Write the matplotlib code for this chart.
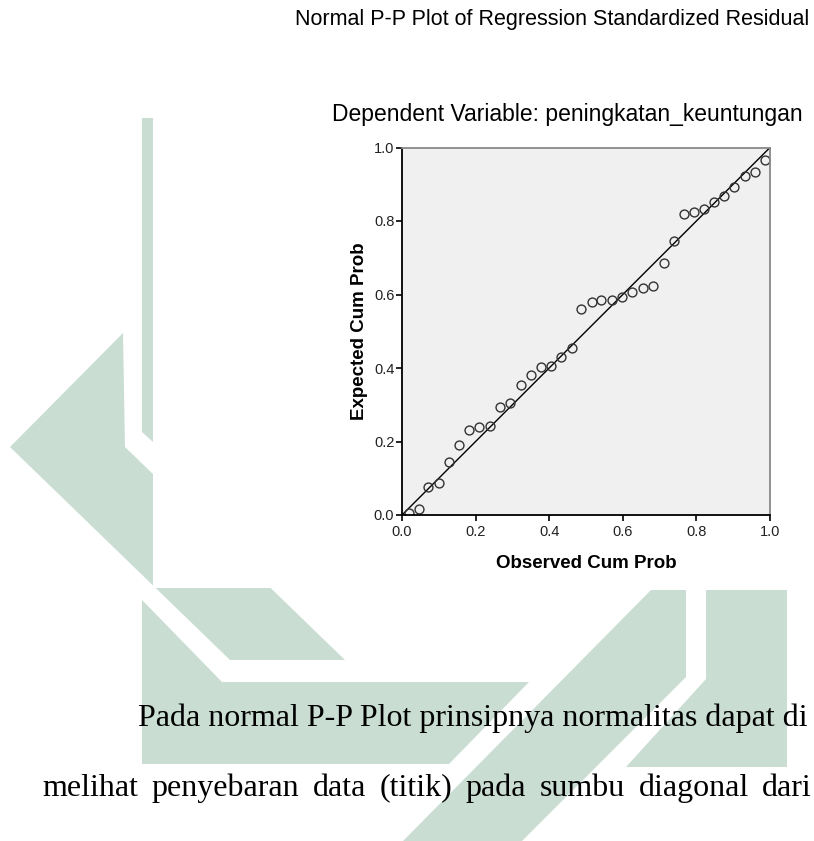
import matplotlib
matplotlib.use("Agg")
import matplotlib.pyplot as plt
from matplotlib.patches import Polygon, Rectangle

# observed vs expected cumulative probability
observed_cum_prob = [0.018, 0.045, 0.072, 0.101, 0.127, 0.156, 0.183, 0.210, 0.239,
                     0.267, 0.294, 0.323, 0.350, 0.377, 0.404, 0.433, 0.461, 0.487,
                     0.515, 0.542, 0.570, 0.599, 0.626, 0.655, 0.682, 0.711, 0.738,
                     0.765, 0.793, 0.820, 0.847, 0.876, 0.903, 0.931, 0.958, 0.987]
expected_cum_prob = [0.006, 0.016, 0.077, 0.088, 0.143, 0.190, 0.230, 0.239, 0.241,
                     0.293, 0.304, 0.354, 0.381, 0.402, 0.406, 0.430, 0.455, 0.560,
                     0.580, 0.584, 0.586, 0.593, 0.608, 0.619, 0.622, 0.687, 0.745,
                     0.820, 0.824, 0.833, 0.851, 0.867, 0.892, 0.922, 0.933, 0.965]
ticks = [0.0, 0.2, 0.4, 0.6, 0.8, 1.0]
tick_labels = ["0.0", "0.2", "0.4", "0.6", "0.8", "1.0"]

title = "Normal P-P Plot of Regression Standardized Residual"
subtitle = "Dependent Variable: peningkatan_keuntungan"
body_line1 = "Pada normal P-P Plot prinsipnya normalitas dapat di"
body_line2 = "melihat penyebaran data (titik) pada sumbu diagonal dari"

W, H = 814, 841


def fxy(x, y):
    # pixel position (origin top-left) -> figure fraction
    return (x / W, 1 - y / H)


fig = plt.figure(figsize=(W / 100, H / 100), dpi=100)

# watermark shapes behind the page
wm_color = "#c9ddd3"
shapes = [
    [(142, 118), (153, 118), (153, 442), (142, 432)],
    [(123, 333), (10, 447), (230, 660), (345, 660), (125, 447)],
    [(142, 600), (222, 682), (529, 682), (449, 764), (142, 764)],
    [(651, 590), (686, 590), (686, 677), (522, 841), (403, 841)],
    [(706, 590), (787, 590), (787, 767), (626, 767), (706, 679)],
]
for pts in shapes:
    fig.patches.append(Polygon([fxy(x, y) for x, y in pts], closed=True,
                               transform=fig.transFigure, facecolor=wm_color,
                               edgecolor="none", zorder=-2))

# white background of the pasted chart image
fig.patches.append(Rectangle(fxy(153, 588), (W - 153) / W, 588 / H,
                             transform=fig.transFigure, facecolor="white",
                             edgecolor="none", zorder=-1))

ax = fig.add_axes([402 / W, 1 - 515 / H, 368 / W, 367.5 / H])
ax.set_facecolor("#f0f0f0")
ax.plot([0, 1], [0, 1], color="black", lw=1.0)
ax.plot(observed_cum_prob, expected_cum_prob, "o", ms=6.4, mfc="none",
        mec="#333333", mew=1.0)
ax.set_xlim(0, 1)
ax.set_ylim(0, 1)
ax.set_xticks(ticks)
ax.set_yticks(ticks)
ax.set_xticklabels(tick_labels)
ax.set_yticklabels(tick_labels)
ax.tick_params(direction="out", length=4, width=1.2, color="black",
               labelsize=10.5, labelcolor="#222222", pad=1.5)
ax.tick_params(axis="x", pad=3.5)
for s in ["left", "bottom"]:
    ax.spines[s].set_color("black")
    ax.spines[s].set_linewidth(1.3)
for s in ["top", "right"]:
    ax.spines[s].set_color("#888888")
    ax.spines[s].set_linewidth(1.3)
for lab in ax.get_xticklabels() + ax.get_yticklabels():
    lab.set_family("Liberation Sans")
ax.set_xlabel("Observed Cum Prob", fontsize=13.5, fontweight="bold",
              family="Liberation Sans", labelpad=11)
ax.set_ylabel("Expected Cum Prob", fontsize=13.5, fontweight="bold",
              family="Liberation Sans", labelpad=4)

fig.text(*fxy(552, 19), title, ha="center", va="center", fontsize=15.5,
         family="Liberation Sans")
fig.text(*fxy(567, 115), subtitle, ha="center", va="center", fontsize=16.5,
         family="Liberation Sans")

# body text of the page (serif, justified)
fig.text(*fxy(138, 718), body_line1, ha="left", va="center", fontsize=23,
         family="Liberation Serif")

words = body_line2.split()
word_texts = [fig.text(0, fxy(0, 788)[1], w, ha="left", va="center",
                       fontsize=23, family="Liberation Serif") for w in words]
fig.canvas.draw()
renderer = fig.canvas.get_renderer()
widths = [t.get_window_extent(renderer).width for t in word_texts]
x0, x1 = 42, 812
gap = (x1 - x0 - sum(widths)) / (len(words) - 1)
x = x0
for t, w in zip(word_texts, widths):
    t.set_x(x / W)
    x += w + gap

fig.savefig("out.png", dpi=100)
